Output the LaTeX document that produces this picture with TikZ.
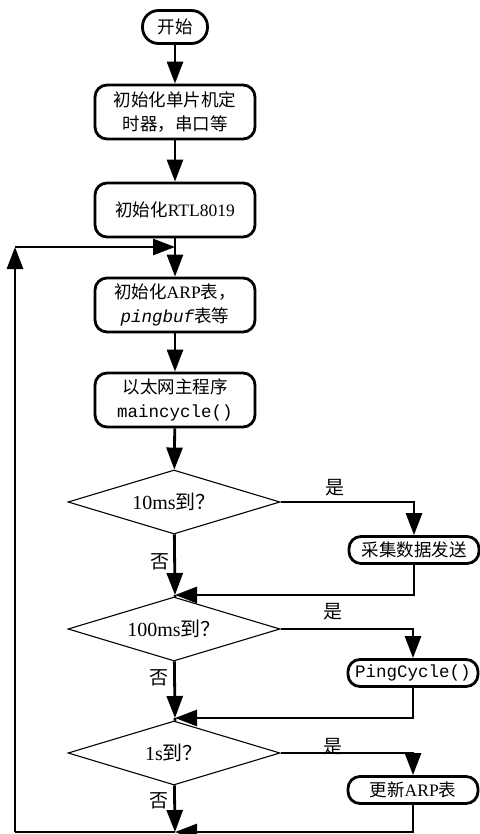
\documentclass[tikz,border=0pt]{standalone}
\usepackage{fontspec}
\setmainfont{Liberation Serif}
\setmonofont{Liberation Mono}
\newfontfamily\cjk{Noto Sans CJK SC}
\usepackage{tikz}
\usetikzlibrary{shapes.geometric,arrows.meta}

\begin{document}
\begin{tikzpicture}[x=1pt,y=-1pt,
    proc/.style={draw, line width=2.8pt, rounded corners=12pt, minimum width=160pt, minimum height=54pt, align=center, font=\fontsize{17.5}{24}\selectfont},
    side/.style={draw, line width=2.8pt, rounded corners=12pt, minimum width=130pt, minimum height=27pt, inner sep=2pt, font=\fontsize{17.5}{20}\selectfont},
    dec/.style={diamond, draw, line width=1.1pt, aspect=3.3, inner sep=0pt, minimum width=212pt, minimum height=64pt, font=\fontsize{20}{22}\selectfont},
    lab/.style={font=\cjk\fontsize{19}{20}\selectfont, inner sep=0pt},
    line/.style={line width=2.8pt},
    flow/.style={line width=2.8pt, -{Triangle[width=16pt,length=22pt]}}]
                        \useasboundingbox (0,0) rectangle (479,834);
                        % Nodes
                        \node[proc, rounded corners=16pt, minimum width=65pt, minimum height=33pt, inner sep=1pt] (start) at (175,27) {\cjk 开始};
                        \node[proc] (initmcu) at (175,112) {{\cjk 初始化单片机定}\\{\cjk 时器，串口等}};
                        \node[proc] (initrtl) at (175,210) {{\cjk 初始化}RTL8019};
                        \node[proc] (initarp) at (175,305) {{\cjk 初始化}ARP{\cjk 表，}\\{\ttfamily\itshape pingbuf}{\cjk 表等}};
                        \node[proc] (mainc) at (175,400) {{\cjk 以太网主程序}\\{\ttfamily maincycle()}};
                        \node[dec] (t10ms) at (174,502) {10ms{\cjk 到？}};
                        \node[dec] (t100ms) at (174,629) {100ms{\cjk 到？}};
                        \node[dec] (t1s) at (174,753) {1s{\cjk 到？}};
                        \node[side] (send) at (414,550) {\cjk 采集数据发送};
                        \node[side] (ping) at (413,673) {\ttfamily PingCycle()};
                        \node[side] (arp) at (413,790) {{\cjk 更新}ARP{\cjk 表}};

                        \node[lab] (yes1) at (335,488) {是};
                        \node[lab] (yes2) at (333,612) {是};
                        \node[lab] (yes3) at (333,747) {是};
                        \node[lab] (no1) at (160,562) {否};
                        \node[lab] (no2) at (159,678) {否};
                        \node[lab] (no3) at (159,801) {否};

                        \coordinate (j0) at (175,247);
                        \coordinate (j1) at (175,595);
                        \coordinate (j2) at (175,718);
                        \coordinate (j3) at (175,832);
                        \coordinate (bl) at (15,832);
                        \coordinate (tl) at (15,247);

                        % Edges
                        \draw[flow] (start) -- (initmcu);
                        \draw[flow] (initmcu) -- (initrtl);
                        \draw[line] (initrtl) -- (j0);
                        \draw[flow] (j0) -- (initarp);
                        \draw[flow] (initarp) -- (mainc);
                        \draw[flow] (mainc) -- (t10ms);

                        \draw[flow] (t10ms) -- (j1);
                        \draw[flow] (t10ms.east) -| (send);
                        \draw[flow] (send) |- (j1);
                        \draw[line] (j1) -- (t100ms);

                        \draw[flow] (t100ms) -- (j2);
                        \draw[flow] (t100ms.east) -| (ping);
                        \draw[flow] (ping) |- (j2);
                        \draw[line] (j2) -- (t1s);

                        \draw[flow] (t1s) -- (j3);
                        \draw[flow] (t1s.east) -| (arp);
                        \draw[flow] (arp) |- (j3);

                        \draw[line] (j3) -- (bl);
                        \draw[flow] (bl) -- (tl);
                        \draw[flow] (tl) -- (j0);
                    \end{tikzpicture}
\end{document}
